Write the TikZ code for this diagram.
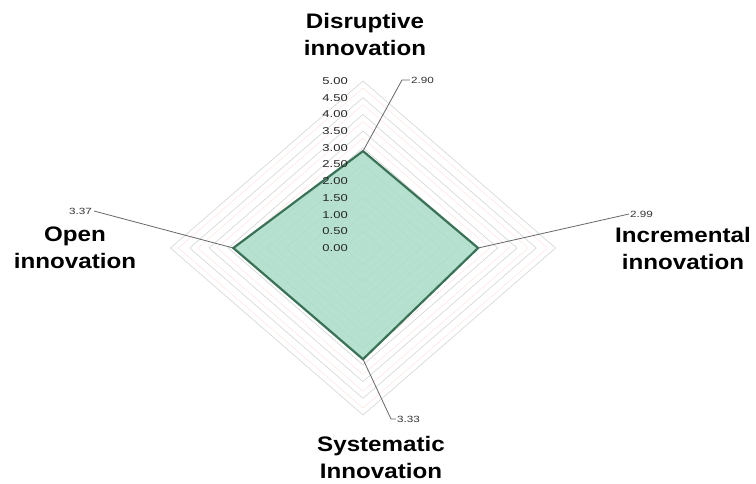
\documentclass[tikz,border=0pt]{standalone}
\usepackage{fontspec}
\setmainfont{Liberation Sans}
\newfontfamily\catfont[FakeStretch=1.15]{Liberation Sans}
\newfontfamily\numfont[FakeStretch=1.3]{Liberation Sans}
\usetikzlibrary{positioning}
\definecolor{radar-fill}{HTML}{A9DCC8}
\definecolor{radar-line}{HTML}{3A7257}
\colorlet{grid-gray}{black!17}
\colorlet{grid-red}{red!11}
\tikzset{
  category/.style={font=\catfont\bfseries\fontsize{21}{27}\selectfont, align=center, inner sep=0pt},
  tick-label/.style={font=\numfont\fontsize{10}{11}\selectfont, anchor=east, inner sep=0pt, text=black!85},
  value-label/.style={font=\numfont\fontsize{9}{10}\selectfont, inner sep=0pt, text=black!80},
  leader/.style={black!60, line width=0.8pt},
  ring/.style={grid-gray, line width=0.6pt},
  ring-red/.style={grid-red, line width=0.5pt},
  radar/.style={draw=radar-line, line width=2.2pt, line join=miter, fill=radar-fill, fill opacity=0.85},
}

\begin{document}
\begin{tikzpicture}[x=1pt, y=1pt]
\useasboundingbox (-363,-235) rectangle (393,248);
\foreach \v in {0.5,1,...,5} {
  \draw[ring] (\v*38.5,0) -- (0,\v*33.4) -- (-\v*38.5,0) -- (0,-\v*33.4) -- cycle;
  \draw[ring-red] (\v*38.5-8,0) -- (0,\v*33.4-7) -- (-\v*38.5+8,0) -- (0,-\v*33.4+7) -- cycle;
}
\coordinate (dis) at (0,96.9);
\coordinate (inc) at (115.1,0);
\coordinate (sys) at (0,-111.2);
\coordinate (ope) at (-129.7,0);
\draw[radar] (dis) -- (inc) -- (sys) -- (ope) -- cycle;
\foreach \v in {0.00,0.50,1.00,1.50,2.00,2.50,3.00,3.50,4.00,4.50,5.00}
  \node[tick-label] at (-15,\v*33.4) {\v};
\node[value-label, anchor=west] at (48,168) (v-dis) {2.90};
\node[value-label, anchor=west] at (267,34) (v-inc) {2.99};
\node[value-label, anchor=west] at (34,-171) (v-sys) {3.33};
\node[value-label, anchor=east] at (-271,37) (v-ope) {3.37};
\draw[leader] (dis) -- ([xshift=-9pt]v-dis.west) -- ([xshift=-1pt]v-dis.west);
\draw[leader] (inc) -- ([xshift=-1pt]v-inc.west);
\draw[leader] (sys) -- ([xshift=-6pt]v-sys.west) -- ([xshift=-1pt]v-sys.west);
\draw[leader] (ope) -- ([xshift=2pt]v-ope.east);
\node[category] at (2,214) (disruptive) {Disruptive\\innovation};
\node[category] at (320,0) (incremental) {Incremental\\innovation};
\node[category] at (18,-209) (systematic) {Systematic\\Innovation};
\node[category] at (-288,0) (open) {Open\\innovation};
\end{tikzpicture}
\end{document}
